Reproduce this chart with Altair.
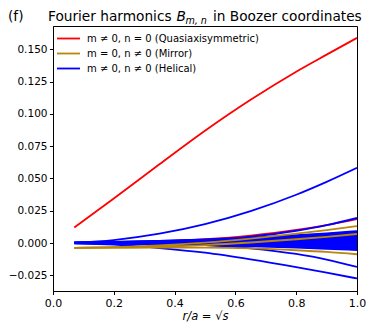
import altair as alt
import pandas as pd

# radial grid r/a
X = [0.07, 0.2, 0.35, 0.5, 0.65, 0.8, 0.9, 1.0]

# quasi-axisymmetric modes (m != 0, n = 0)
QA_MAIN = [0.0120, 0.0345, 0.0610, 0.0870, 0.1110, 0.1328, 0.1460, 0.1590]
QA_SMALL = [0.0000, 0.0002, 0.0011, 0.0029, 0.0058, 0.0101, 0.0139, 0.0185]

# mirror modes (m = 0, n != 0)
MIR_1 = [-0.0037, -0.0032, -0.0019, 0.0003, 0.0034, 0.0072, 0.0100, 0.0131]
MIR_2 = [-0.0037, -0.0035, -0.0029, -0.0016, 0.0004, 0.0029, 0.0048, 0.0070]
MIR_3 = [-0.0037, -0.0036, -0.0035, -0.0036, -0.0042, -0.0056, -0.0069, -0.0087]

# helical modes (m != 0, n != 0)
HEL_TOP = [0.0003, 0.0023, 0.0072, 0.0146, 0.0247, 0.0374, 0.0474, 0.0583]
HEL_2 = [0.0000, 0.0001, 0.0007, 0.0021, 0.0049, 0.0095, 0.0138, 0.0194]
HEL_BOT = [0.0000, -0.0013, -0.0039, -0.0075, -0.0127, -0.0187, -0.0230, -0.0275]
HEL_BOT2 = [0.0000, 0.0000, -0.0004, -0.0016, -0.0041, -0.0085, -0.0128, -0.0186]
HEL_F01 = [0.0003, 0.0008, 0.0016, 0.0027, 0.0042, 0.0060, 0.0075, 0.0092]
HEL_F02 = [0.0000, 0.0002, 0.0008, 0.0018, 0.0034, 0.0054, 0.0069, 0.0086]
HEL_F03 = [0.0002, 0.0006, 0.0013, 0.0023, 0.0036, 0.0053, 0.0066, 0.0080]
HEL_F04 = [0.0000, 0.0001, 0.0005, 0.0013, 0.0026, 0.0043, 0.0057, 0.0072]
HEL_F05 = [0.0004, 0.0009, 0.0016, 0.0025, 0.0035, 0.0047, 0.0056, 0.0065]
HEL_F06 = [0.0000, 0.0002, 0.0006, 0.0013, 0.0023, 0.0036, 0.0046, 0.0058]
HEL_F07 = [0.0001, 0.0004, 0.0009, 0.0016, 0.0024, 0.0034, 0.0042, 0.0050]
HEL_F08 = [0.0000, 0.0001, 0.0003, 0.0008, 0.0015, 0.0026, 0.0034, 0.0043]
HEL_F09 = [0.0002, 0.0005, 0.0009, 0.0014, 0.0020, 0.0027, 0.0031, 0.0036]
HEL_F10 = [0.0000, 0.0001, 0.0003, 0.0007, 0.0012, 0.0019, 0.0024, 0.0029]
HEL_F11 = [0.0001, 0.0003, 0.0006, 0.0009, 0.0013, 0.0017, 0.0019, 0.0022]
HEL_F12 = [0.0000, 0.0001, 0.0002, 0.0004, 0.0007, 0.0010, 0.0012, 0.0015]
HEL_F13 = [0.0000, 0.0001, 0.0002, 0.0003, 0.0004, 0.0006, 0.0007, 0.0008]
HEL_F14 = [0.0000, 0.0000, 0.0000, 0.0001, 0.0001, 0.0001, 0.0001, 0.0001]
HEL_F15 = [0.0000, 0.0000, -0.0001, -0.0002, -0.0003, -0.0004, -0.0005, -0.0006]
HEL_F16 = [-0.0001, -0.0002, -0.0004, -0.0006, -0.0008, -0.0010, -0.0011, -0.0013]
HEL_F17 = [0.0000, -0.0001, -0.0003, -0.0006, -0.0010, -0.0014, -0.0017, -0.0020]
HEL_F18 = [-0.0002, -0.0004, -0.0007, -0.0011, -0.0015, -0.0019, -0.0023, -0.0027]
HEL_F19 = [0.0000, -0.0001, -0.0004, -0.0009, -0.0015, -0.0022, -0.0028, -0.0034]
HEL_F20 = [-0.0001, -0.0003, -0.0007, -0.0013, -0.0020, -0.0028, -0.0034, -0.0041]
HEL_F21 = [0.0000, -0.0001, -0.0003, -0.0008, -0.0016, -0.0027, -0.0037, -0.0048]
HEL_F22 = [-0.0002, -0.0005, -0.0010, -0.0017, -0.0026, -0.0036, -0.0045, -0.0055]

KINDS = ["m ≠ 0, n = 0 (Quasiaxisymmetric)", "m = 0, n ≠ 0 (Mirror)", "m ≠ 0, n ≠ 0 (Helical)"]
COLORS = ["#ff0000", "#b8860b", "#0000ff"]

X_TICKS = [0.0, 0.2, 0.4, 0.6, 0.8, 1.0]
Y_TICKS = [-0.025, 0.0, 0.025, 0.05, 0.075, 0.1, 0.125, 0.15]

qa_series = {"qa_main": QA_MAIN, "qa_small": QA_SMALL}
mir_series = {"mir1": MIR_1, "mir2": MIR_2, "mir3": MIR_3}
hel_series = {
    "hel_top": HEL_TOP, "hel_2": HEL_2, "hel_bot": HEL_BOT, "hel_bot2": HEL_BOT2,
    "f01": HEL_F01, "f02": HEL_F02, "f03": HEL_F03, "f04": HEL_F04, "f05": HEL_F05,
    "f06": HEL_F06, "f07": HEL_F07, "f08": HEL_F08, "f09": HEL_F09, "f10": HEL_F10,
    "f11": HEL_F11, "f12": HEL_F12, "f13": HEL_F13, "f14": HEL_F14, "f15": HEL_F15,
    "f16": HEL_F16, "f17": HEL_F17, "f18": HEL_F18, "f19": HEL_F19, "f20": HEL_F20,
    "f21": HEL_F21, "f22": HEL_F22,
}


def frame(series, kind):
    rows = []
    for sid, vals in series.items():
        for xv, yv in zip(X, vals):
            rows.append({"id": sid, "kind": kind, "x": xv, "y": yv})
    return pd.DataFrame(rows)


df_qa = frame(qa_series, KINDS[0])
df_mir = frame(mir_series, KINDS[1])
df_hel = frame(hel_series, KINDS[2])

FONT = "DejaVu Sans"
xscale = alt.Scale(domain=[0, 1], nice=False, zero=False)
yscale = alt.Scale(domain=[-0.0372, 0.1682], nice=False, zero=False)
cscale = alt.Scale(domain=KINDS, range=COLORS)

xaxis = alt.Axis(values=X_TICKS, format=".1f", grid=False, tickSize=3.5, labelPadding=3,
                 labelFlush=False, labelOverlap=False, labelFontSize=11, labelFont=FONT,
                 labelColor="black", tickColor="black", domainColor="black",
                 title="r/a = √s", titleFont=FONT, titleFontSize=11.5, titleFontStyle="italic",
                 titleFontWeight="normal", titleColor="black", titlePadding=2)
yaxis = alt.Axis(values=Y_TICKS, format=".3f", grid=False, tickSize=3.5, labelPadding=2.5,
                 labelFlush=False, labelOverlap=False, labelFontSize=10.5, labelFont=FONT,
                 labelColor="black", tickColor="black", domainColor="black", title=None)


def lines(df):
    return alt.Chart(df).mark_line(strokeWidth=1.8, interpolate="monotone", clip=True).encode(
        x=alt.X("x:Q", scale=xscale, axis=xaxis),
        y=alt.Y("y:Q", scale=yscale, axis=yaxis),
        color=alt.Color("kind:N", scale=cscale, legend=None),
        detail="id:N",
    )


dummy = pd.DataFrame({"d": [0]})


def label(text, x, y, size, style="normal", align="left", baseline="alphabetic"):
    return alt.Chart(dummy).mark_text(
        text=text, align=align, baseline=baseline, fontSize=size, font=FONT,
        fontStyle=style, color="black"
    ).encode(x=alt.value(x), y=alt.value(y))


def legend_row(i, y):
    rule = alt.Chart(dummy).mark_rule(color=COLORS[i], strokeWidth=1.8).encode(
        x=alt.value(4), x2=alt.value(27), y=alt.value(y))
    txt = label(KINDS[i], 34, y, 10, baseline="middle")
    return rule + txt


title_parts = (
    label("(f)", -45, -5, 13.7)
    + label("Fourier harmonics", -5, -5, 13.7)
    + label("B", 123.4, -5, 13.7, style="italic")
    + label("m, n", 132.4, -2.5, 9.6, style="italic")
    + label("in Boozer coordinates", 160, -5, 13.7)
)

chart = alt.layer(
    lines(df_qa), lines(df_hel), lines(df_mir),
    legend_row(0, 12.5), legend_row(1, 27.5), legend_row(2, 42.5),
    title_parts,
).properties(
    width=304, height=265,
    autosize=alt.AutoSizeParams(type="none"),
    padding={"left": 45, "top": 18, "right": 9, "bottom": 33},
).configure_view(stroke="black", strokeWidth=1)

chart.save("out.html", embed_options={"renderer": "svg", "actions": False})
